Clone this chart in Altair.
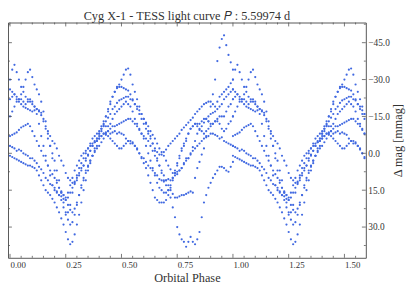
import altair as alt
import pandas as pd

TITLE = "Cyg X-1 - TESS light curve 𝑃 : 5.59974 d"

# Orbital phase grid of the folded light curve (one cycle, step 0.01)
phase = [round(i * 0.01, 2) for i in range(101)]

# Delta mag [mmag] along each folded cycle
cycle_1 = [-7, -7.5, -8, -8.5, -9.5, -10.5, -11, -11.5, -12, -11,
           -9, -7, -5, -3, -1, 1, 3, 5, 7, 8.5,
           10, 12, 14, 15.5, 17, 19, 21, 23, 24, 22.5,
           20, 17, 14, 11, 8, 5.5, 3, 1, -0.5, -2,
           -3, -4.5, -6, -7.5, -9, -10, -11, -11, -11.5, -12,
           -12.5, -13, -13.5, -14, -14, -13, -12, -11, -9.5, -8,
           -7, -6, -5, -3, -1, 1, 3, 5, 7, 9,
           11, 13, 15, 16.5, 18, 18, 17.5, 17, 17, 16.5,
           16, 15.5, 16, 10, 6, 3.5, 0.5, -2, -7, -13,
           -19, -24, -30, -37.5, -43, -46.5, -48, -44, -40, -37,
           -34]
cycle_2 = [1, 1.5, 2, 2.5, 3, 3.5, 4, 4.5, 5, 5,
           5.5, 6, 7, 9, 11, 13, 15, 16, 17, 18.5,
           20, 22, 24, 26.5, 29, 32, 35, 37, 36, 33,
           29, 25, 20, 15, 11, 7, 4, 1, -2, -5,
           -8, -11, -13, -15, -17, -20, -23, -25, -27, -28,
           -30, -32, -34, -34.5, -32, -28, -25, -22, -19, -16,
           -14, -12, -9, -7, -4, -1, 2, 5, 8, 11,
           13, 15, 18, 22, 26, 30, 33, 35, 36, 38,
           36, 34, 36, 37, 35, 32, 26, 20, 17, 14,
           12, 10, 8.5, 7, 5.5, 5.5, 6, 7, 7.5, 5.5,
           3.5]
cycle_3 = [-30, -34, -36, -33, -30, -27, -25, -23, -22, -21,
           -20, -19, -18, -17.5, -16.5, -14, -10, -6, -3, 0,
           3, 7, 11, 16, 20, 24, 27, 29, 28, 25,
           21, 17, 13, 10, 7, 5, 3, 1, -1, -3,
           -6, -9, -12, -15, -18, -21, -23, -25, -26.5, -27,
           -27, -26.5, -26, -25.5, -24, -22, -20, -18, -16, -14,
           -12, -10, -8, -6, -4, -2, -0.5, 0.5, 0.5, -0.5,
           -1.5, -3, -4, -5, -6, -7, -8, -9.5, -10.5, -11.5,
           -12.5, -13.5, -14.5, -16, -17, -18, -19, -20, -20.5, -21,
           -21, -20, -19, -21, -23, -24, -25, -26, -27, -28.5,
           -30]
cycle_4 = [-22, -23, -24, -23, -22, -24, -27, -30, -33, -34,
           -31, -28, -26, -24, -21, -17, -13, -8, -3, 2,
           7, 11, 14, 16, 17, 18, 16, 13, 10, 7,
           5, 3, 1, 0, -1, -2, -3, -4, -5, -6,
           -7, -7, -8, -8, -7, -6, -5, -4, -3, -2,
           -2, -3, -4, -5, -5, -4, -3, -2, 0, 2,
           4, 6, 9, 12, 15, 18, 19, 20, 20, 20,
           19, 17, 14, 11, 8, 5, 2, -1, -3, -5,
           -8, -10, -11, -12, -12, -12, -13, -14, -14, -13,
           -12, -12, -13, -14, -15, -15, -15, -17, -19, -20,
           -22]
cycle_5 = [-15, -17, -19, -21, -22, -22, -21, -20, -21, -22,
           -21, -19, -16, -12, -7, -3, 1, 5, 9, 13,
           15, 16, 17, 19, 22, 25, 24, 21, 16, 12,
           9, 6, 4, 2, 0, -2, -4, -6, -7, -8,
           -9, -10, -11, -11, -11, -12, -14, -16, -17, -18,
           -19, -20, -21, -20, -19, -17, -14, -12, -10, -8,
           -6, -3, 0, 3, 6, 9, 12, 14, 15, 16,
           16, 15, 13, 10, 7, 4, 1, -2, -4, -6,
           -8, -10, -11, -12, -11, -10, -9, -8, -9, -10,
           -11, -12, -13, -13, -12, -10, -9, -10, -12, -13,
           -15]
cycle_6 = [-3, -2.5, -2, -1, -1.5, -1, 0, 0.5, 1, 2,
           2, 3, 4, 5.5, 6.5, 8, 10, 11, 12.5, 13,
           14, 15.5, 17, 17.5, 18.5, 19, 18, 16, 14, 12.5,
           11, 9, 7, 5, 2, 0.5, -1, -3, -4.5, -5,
           -6, -7, -8, -8.5, -9, -8, -8.5, -9, -8, -8.5,
           -8, -7.5, -6, -5, -4, -4.5, -3, -1.5, 0, 1.5,
           2, 3.5, 5, 6, 7, 8, 9, 10.5, 11, 11.5,
           11, 10.5, 11, 10, 9, 8.5, 7, 6, 4.5, 3,
           2, 0.5, -1, -2, -3, -4, -5, -6, -6.5, -7,
           -8, -8, -7.5, -7, -6, -6.5, -5, -4.5, -4, -3.5,
           -3]
cycle_7 = [-26, -25, -24, -22, -21, -20, -19, -18.5, -18, -17.5,
           -17, -17.5, -18, -17, -15.5, -13, -11, -9, -7, -5,
           -4, -2, 1, 3, 5, 8, 10, 11, 12, 11.5,
           10, 8, 6, 5, 3, 1, -1, -3, -4.5, -6,
           -8, -10, -11.5, -13, -14.5, -16, -18, -19, -20.5, -21.5,
           -22, -22.5, -23, -23, -22, -21.5, -20, -19, -17.5, -16,
           -14, -12.5, -11, -9, -7.5, -6, -4, -2, -0.5, 1,
           3, 5, 6.5, 8, 8, 7.5, 7, 6, 4, 2,
           2, 0, -2.5, -5, -8, -9.5, -11, -12.5, -14, -15,
           -16, -16.5, -17, -18, -19, -20, -22, -23, -24, -25,
           -26]

x_ticks_major = [0.0, 0.25, 0.5, 0.75, 1.0, 1.25, 1.5]
x_ticks_minor = [0.05, 0.1, 0.15, 0.2, 0.3, 0.35, 0.4, 0.45, 0.55, 0.6, 0.65, 0.7,
                 0.8, 0.85, 0.9, 0.95, 1.05, 1.1, 1.15, 1.2, 1.3, 1.35, 1.4, 1.45, 1.55]
y_ticks_major = [-45, -30, -15, 0, 15, 30]
y_ticks_minor = [-52.5, -37.5, -22.5, -7.5, 7.5, 22.5, 37.5]

X_DOMAIN = [-0.009, 1.596]
Y_DOMAIN = [-53.2, 42.5]

W, H = 365, 240
BLUE = "#4169E1"
FRAME = "#555555"
TXT = "#333333"
FONT = "Liberation Serif"

rows = []
for cyc in (cycle_1, cycle_2, cycle_3, cycle_4, cycle_5, cycle_6, cycle_7):
    for p, m in zip(phase, cyc):
        for shift in (0.0, 1.0):
            ph = p + shift
            if X_DOMAIN[0] <= ph <= X_DOMAIN[1]:
                rows.append({"phase": ph, "mag": m})
df = pd.DataFrame(rows)

xscale = alt.Scale(domain=X_DOMAIN, nice=False, zero=False)
yscale = alt.Scale(domain=Y_DOMAIN, nice=False, zero=False, reverse=True)

x_axis = alt.Axis(
    values=x_ticks_major, format=".2f", ticks=False, domain=False, grid=False,
    labelAlign="left", labelPadding=3, labelFontSize=9, labelFont=FONT,
    labelColor=TXT, labelOverlap=False, labelFlush=False,
    title="Orbital Phase", titleFont=FONT, titleFontSize=12.5,
    titleFontWeight="normal", titleColor=TXT, titlePadding=2)
y_axis = alt.Axis(
    orient="right", values=y_ticks_major, format=".1f", ticks=False,
    domain=False, grid=False, labelPadding=2, labelFontSize=9.5,
    labelFont=FONT, labelColor=TXT, labelOverlap=False, labelFlush=False,
    title="Δ mag [mmag]", titleAngle=270, titleFont=FONT, titleFontSize=12.5,
    titleFontWeight="normal", titleColor=TXT, titleX=32, titleY=H / 2,
    titleAlign="center", titleBaseline="middle")

points = alt.Chart(df).mark_circle(size=5, color=BLUE, opacity=1).encode(
    x=alt.X("phase:Q", scale=xscale, axis=x_axis),
    y=alt.Y("mag:Q", scale=yscale, axis=y_axis),
)

xt_major = pd.DataFrame({"t": x_ticks_major})
xt_minor = pd.DataFrame({"t": x_ticks_minor})
yt_major = pd.DataFrame({"t": y_ticks_major})
yt_minor = pd.DataFrame({"t": y_ticks_minor})


def xticks(data, y0, y1):
    return alt.Chart(data).mark_rule(color=FRAME, strokeWidth=0.8).encode(
        x=alt.X("t:Q", scale=xscale, axis=x_axis), y=alt.value(y0), y2=alt.value(y1))


def yticks(data, x0, x1):
    return alt.Chart(data).mark_rule(color=FRAME, strokeWidth=0.8).encode(
        y=alt.Y("t:Q", scale=yscale, axis=y_axis), x=alt.value(x0), x2=alt.value(x1))


title_text = alt.Chart(pd.DataFrame({"label": [TITLE]})).mark_text(
    font=FONT, fontSize=12.5, color=TXT, align="center", baseline="alphabetic"
).encode(text="label:N", x=alt.value(W / 2), y=alt.value(-3))

chart = alt.layer(
    points,
    xticks(xt_major, H, H - 4), xticks(xt_minor, H, H - 2),
    xticks(xt_major, 0, 4), xticks(xt_minor, 0, 2),
    yticks(yt_major, 0, 4), yticks(yt_minor, 0, 2),
    yticks(yt_major, W, W - 4), yticks(yt_minor, W, W - 2),
    title_text,
).properties(
    width=W, height=H,
    autosize=alt.AutoSizeParams(type="none"),
    padding={"left": 0, "top": 12, "right": 42, "bottom": 28},
).configure(background="white").configure_view(stroke=FRAME, strokeWidth=1)

chart.save("out.html", embed_options={"renderer": "svg", "actions": False})
